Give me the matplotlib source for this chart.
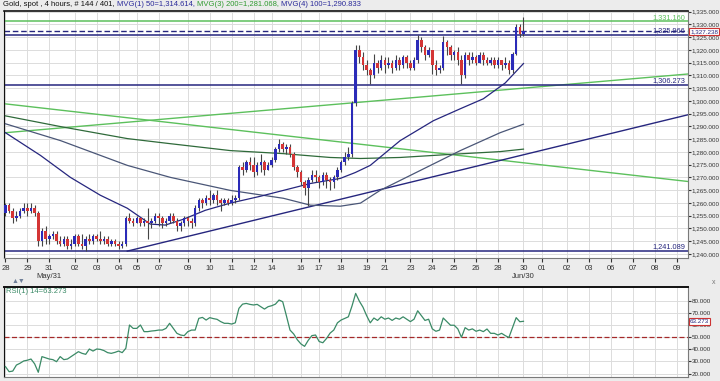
import matplotlib.pyplot as plt
from matplotlib.ticker import FuncFormatter, FixedLocator, MultipleLocator
from matplotlib.transforms import blended_transform_factory

plt.rcParams['font.family'] = ['Liberation Sans', 'DejaVu Sans']

# ---- data ----
first_open = 1256.0
closes = [
    1259, 1257, 1254, 1255, 1257, 1258, 1257, 1258, 1256, 1245,
    1249, 1246, 1247, 1248, 1245, 1244, 1246, 1243, 1244, 1247,
    1244, 1243, 1246, 1245, 1247, 1246, 1245, 1246, 1244, 1245,
    1244, 1243, 1244, 1254, 1253, 1252, 1254, 1252, 1253, 1252,
    1253, 1255, 1254, 1252, 1253, 1255, 1253, 1251, 1252, 1254,
    1253, 1252, 1258, 1261, 1260, 1262, 1261, 1263, 1261, 1260,
    1261, 1260, 1261, 1262, 1274, 1273, 1276, 1275, 1272, 1275,
    1276, 1273, 1275, 1277, 1281, 1283, 1281, 1282, 1279, 1274,
    1272, 1268, 1266, 1269, 1271, 1270, 1268, 1271, 1269, 1268,
    1270, 1273, 1276, 1278, 1279, 1299, 1320, 1317, 1314, 1312,
    1310, 1315, 1313, 1316, 1314, 1315, 1313, 1316, 1314, 1317,
    1315, 1313, 1316, 1324, 1321, 1318, 1320, 1314, 1312, 1313,
    1323, 1321, 1318, 1319, 1316, 1310, 1318, 1316, 1317, 1315,
    1318, 1316, 1315, 1316, 1314, 1316, 1314, 1315, 1312, 1318.5,
    1329, 1326, 1327.238]
highs = [
    1260, 1260, 1258, 1257, 1258, 1260, 1260, 1260, 1259, 1257,
    1250, 1251, 1248, 1249, 1249, 1247, 1247, 1247, 1246, 1248,
    1248, 1248, 1247, 1248, 1248, 1248, 1249, 1247, 1247, 1246,
    1246, 1245, 1245, 1255, 1256, 1254, 1255, 1254, 1254, 1258,
    1254, 1256, 1256, 1255, 1254, 1256, 1256, 1254, 1253, 1255,
    1255, 1254, 1259, 1262, 1262, 1263, 1265, 1264, 1265, 1262,
    1262, 1262, 1263, 1263, 1275, 1276, 1277, 1278, 1278, 1276,
    1279, 1277, 1276, 1278, 1282, 1285, 1284, 1283, 1283, 1280,
    1275, 1273, 1269, 1270, 1273, 1273, 1271, 1272, 1272, 1270,
    1271, 1274, 1277, 1280, 1282, 1300, 1322, 1322, 1319, 1316,
    1313, 1318.5, 1316, 1318, 1317, 1317, 1316, 1318, 1317, 1318,
    1318, 1316, 1317, 1325.9, 1325, 1322, 1321, 1320, 1316, 1314,
    1325.5, 1324, 1322, 1320, 1321, 1318, 1319, 1319, 1319, 1318,
    1319, 1319, 1317, 1317, 1317, 1317, 1316, 1317, 1316, 1319,
    1330, 1330, 1333]
lows = [
    1255, 1256, 1252, 1253, 1254, 1256, 1255, 1256, 1255, 1243,
    1243, 1244, 1244, 1246, 1244, 1243, 1243, 1242, 1242, 1243,
    1243, 1242, 1241.1, 1244, 1244, 1245, 1244, 1244, 1243, 1243,
    1243, 1242, 1242.5, 1243, 1252, 1251, 1252, 1251, 1251, 1246,
    1250, 1252, 1251, 1250, 1251, 1252, 1252, 1249, 1249, 1251,
    1251, 1250, 1251, 1257, 1258, 1259, 1259, 1260, 1259, 1257,
    1259, 1259, 1259, 1260, 1261, 1271, 1272, 1273, 1270, 1271,
    1272, 1271, 1273, 1274, 1276, 1280, 1280, 1279, 1278, 1273,
    1270, 1267, 1263, 1258.7, 1268, 1268, 1266, 1267, 1266, 1265,
    1266, 1269, 1272, 1275, 1277, 1278, 1298, 1315, 1312, 1310,
    1306.6, 1309, 1311, 1312, 1311, 1313, 1311, 1312, 1312, 1313,
    1313, 1312, 1312, 1315, 1319, 1316, 1317, 1310.5, 1310, 1311,
    1312, 1318, 1316, 1316, 1314, 1306.6, 1309, 1314, 1315, 1314,
    1315, 1314, 1314, 1314, 1313, 1313, 1312, 1313, 1310.5, 1311,
    1318, 1325, 1325.5]

rsi = [
    25.7, 21.5, 22, 27, 28.5, 30.4, 31, 32, 28, 21,
    34, 33, 32, 31.5, 29.8, 34, 31.5, 32, 34, 36,
    38.1, 36.7, 35.9, 40.3, 38.6, 40.3, 40, 39, 37.3, 36.7,
    37.5, 38.6, 37.3, 40.9, 60.2, 57.4, 57.4, 60.2, 54.7, 54.7,
    55.2, 55.5, 56, 56, 57.4, 61.6, 57.4, 53.3, 51.9, 51.4,
    54.7, 56, 56, 65.7, 66.5, 64.3, 66.3, 65.5, 64.9, 63,
    61.6, 61.6, 61, 62, 74, 77.5, 78.1, 77.3, 76.8, 77.3,
    75.4, 73.4, 75.4, 76.2, 77.5, 80.9, 79.5, 68, 56, 52.8,
    48, 44.5, 42.5, 47.5, 51.4, 51.9, 46.5, 45.5, 49, 53.5,
    56, 62, 64.3, 65.7, 67, 76, 86.4, 80, 75, 68,
    62, 66, 64, 67, 65, 66, 64, 66, 65, 67,
    65, 63, 65, 72, 68, 64, 65, 57, 55, 56,
    66, 63, 60, 60, 57, 50, 58, 56, 57, 55,
    56, 54.7, 56.9, 53.3, 53.3, 51.9, 53.3, 51.4, 49.8, 58,
    66.3, 62.9, 63.273]

# moving averages, read at a few bars
mvg50_x = [0, 9.6, 17.8, 26, 33.4, 39.7, 43.8, 48.8, 54.8, 61.6, 69.9, 76.2,
           83.6, 91.8, 95.9, 100, 108.2, 117.3, 124.7, 131, 137, 142]
mvg50_y = [1287.5, 1278.6, 1270.0, 1263.0, 1257.9, 1251.7, 1251.3, 1253.6,
           1257.1, 1259.9, 1262.6, 1264.9, 1267.6, 1269.6, 1271.9, 1274.7,
           1284.4, 1292.2, 1296.9, 1300.8, 1307.0, 1314.614]
mvg100_x = [0, 15.1, 33.4, 45.2, 61.6, 76.2, 83.6, 91.8, 97.3, 102.7, 113.7,
            124.7, 135.6, 142]
mvg100_y = [1291.0, 1284.4, 1274.7, 1270.0, 1264.9, 1261.8, 1259.1, 1258.7,
            1259.9, 1264.9, 1272.7, 1280.5, 1287.5, 1290.833]
mvg200_x = [0, 15.1, 33.4, 45.2, 61.6, 76.2, 89, 97.3, 108.2, 121.9, 135.6, 142]
mvg200_y = [1294.1, 1289.9, 1285.2, 1283.2, 1280.5, 1279.3, 1277.8, 1277.4,
            1277.8, 1279.0, 1280.1, 1281.068]

# drawn trend lines (two anchor points each)
green_up = [(0, 1287.5), (187, 1310.5)]
green_down = [(0, 1298.8), (187, 1268.4)]
navy_trend = [(33.4, 1241.1), (187, 1294.5)]

levels = [(1331.160, 'green'), (1325.966, 'navy'), (1306.273, 'navy'),
          (1241.089, 'navy')]
last_price = 1327.238
last_rsi = 63.273

tick_pos = [0, 6, 12, 19, 25, 31, 36, 42, 50, 56, 62, 68, 73, 81, 86, 92, 99,
            104, 111, 117, 123, 129, 135, 142, 147, 154, 160, 166, 172, 178, 184]
tick_lab = ['28', '29', '31\nMay/31', '02', '03', '04', '05', '07', '09', '10',
            '11', '12', '14', '16', '17', '18', '19', '21', '23', '24', '25',
            '26', '28', '30\nJun/30', '01', '02', '03', '06', '07', '08', '09']

# ---- styling ----
BG = '#ececec'
NAVY = '#26267e'
GREEN = '#5cc05c'
DKGREEN = '#2f6a3a'
SLATE = '#4a5677'
UP = '#2b2bb8'
DOWN = '#d43535'
GRID = '#dcdcdc'
col = {'green': GREEN, 'navy': NAVY}
LBL = 4.5

fig = plt.figure(figsize=(7.2, 3.81), dpi=100, facecolor=BG)
ax = fig.add_axes([4 / 720, 123 / 381, 684 / 720, 247 / 381])
ax_r = fig.add_axes([4 / 720, 4 / 381, 684 / 720, 90 / 381])

XMIN, XMAX = -0.4, 187.1

# candles
n = len(closes)
opens = [first_open] + closes[:-1]
xs = list(range(n))
ax.vlines(xs, lows, highs, color='#454545', linewidth=0.8, zorder=4)
for i in xs:
    o, c = opens[i], closes[i]
    h = max(abs(c - o), 0.35)
    ax.bar(i, h, bottom=min(o, c), width=0.7,
           color=UP if c >= o else DOWN, linewidth=0, zorder=5)

# moving averages
ax.plot(mvg200_x, mvg200_y, color=DKGREEN, linewidth=0.9, zorder=3)
ax.plot(mvg100_x, mvg100_y, color=SLATE, linewidth=0.9, zorder=3)
ax.plot(mvg50_x, mvg50_y, color=NAVY, linewidth=0.9, zorder=3)

# trend lines
ax.axline(green_up[0], green_up[1], color=GREEN, linewidth=1.0, zorder=2)
ax.axline(green_down[0], green_down[1], color=GREEN, linewidth=1.0, zorder=2)
ax.plot([p[0] for p in navy_trend], [p[1] for p in navy_trend],
        color=NAVY, linewidth=1.0, zorder=2)

# horizontal levels with labels
for lv, c in levels:
    ax.axhline(lv, color=col[c], linewidth=1.1, zorder=2)
    ax.text(XMAX - 0.8, lv + 0.25, f'{lv:,.3f}', color=col[c], fontsize=5.3,
            ha='right', va='bottom', zorder=6)
ax.axhline(last_price, color=NAVY, linewidth=1.0, linestyle=(0, (4, 2)),
           zorder=2)

ax.set_xlim(XMIN, XMAX)
ax.set_ylim(1238.4, 1335.2)
ax.yaxis.tick_right()
ax.yaxis.set_major_locator(MultipleLocator(5))
ax.yaxis.set_major_formatter(FuncFormatter(lambda v, p: f'{v:,.3f}'))
ax.xaxis.set_major_locator(FixedLocator(tick_pos))
ax.set_xticklabels(tick_lab)
ax.tick_params(axis='y', labelsize=LBL, length=2, pad=0.5, colors='#333333')
ax.tick_params(axis='x', labelsize=5.5, length=3, pad=2, colors='#333333')
ax.grid(True, color=GRID, linewidth=0.7, zorder=0)
ax.set_axisbelow(True)
for s in ax.spines.values():
    s.set_color('#7a7a7a')
    s.set_linewidth(0.8)
ax.spines['top'].set_color('#111111')
ax.spines['left'].set_color('#111111')
ax.spines['top'].set_linewidth(1.2)

trans = blended_transform_factory(ax.transAxes, ax.transData)
ax.text(1.003, last_price, f'{last_price:,.3f}', transform=trans,
        fontsize=LBL, color=NAVY, ha='left', va='center', zorder=7,
        bbox=dict(boxstyle='square,pad=0.12', facecolor='white',
                  edgecolor='#cc3333', linewidth=0.8), clip_on=False)

# RSI panel
ax_r.plot(xs, rsi, color='#3a8a66', linewidth=0.9, zorder=3)
ax_r.axhline(50, color='#a52a2a', linewidth=0.9, linestyle=(0, (4, 2)),
             zorder=2)
ax_r.set_xlim(XMIN, XMAX)
ax_r.set_ylim(17.1, 91.7)
ax_r.yaxis.tick_right()
ax_r.yaxis.set_major_locator(FixedLocator([20, 30, 40, 50, 60, 70, 80]))
ax_r.yaxis.set_major_formatter(FuncFormatter(lambda v, p: f'{v:,.3f}'))
ax_r.xaxis.set_major_locator(FixedLocator(tick_pos))
ax_r.tick_params(axis='x', length=0, labelbottom=False)
ax_r.tick_params(axis='y', labelsize=LBL, length=2, pad=0.5, colors='#333333')
ax_r.grid(True, color=GRID, linewidth=0.7, zorder=0)
ax_r.set_axisbelow(True)
for s in ax_r.spines.values():
    s.set_color('#7a7a7a')
    s.set_linewidth(0.8)
ax_r.spines['top'].set_color('#111111')
ax_r.spines['top'].set_linewidth(1.4)
ax_r.spines['left'].set_color('#111111')
ax_r.text(0.003, 0.985, f'RSI(1) 14={last_rsi:.3f}', transform=ax_r.transAxes,
          fontsize=5.5, color='#3a8a66', ha='left', va='top')
trans_r = blended_transform_factory(ax_r.transAxes, ax_r.transData)
ax_r.text(1.003, last_rsi, f'{last_rsi:.3f}', transform=trans_r,
          fontsize=LBL, color=NAVY, ha='left', va='center', zorder=7,
          bbox=dict(boxstyle='square,pad=0.12', facecolor='white',
                    edgecolor='#cc3333', linewidth=0.8), clip_on=False)

# title made of coloured pieces
pieces = [('Gold, spot , 4 hours, # 144 / 401, ', '#111111'),
          ('MVG(1) 50=1,314.614, ', '#2a2a9a'),
          ('MVG(3) 200=1,281.068, ', '#2f9a2f'),
          ('MVG(4) 100=1,290.833', '#2a2a9a')]
renderer = fig.canvas.get_renderer()
xpos = 3
for txt, c in pieces:
    t = fig.text(xpos / 720, 1 - 5 / 381, txt, color=c, fontsize=5.5,
                 ha='left', va='center')
    xpos += t.get_window_extent(renderer).width

fig.text(12 / 720, 1 - 281 / 381, '\u25b2\u25bc', color='#6f7f98',
         fontsize=5, ha='left', va='center')
fig.text(714 / 720, 1 - 283 / 381, 'x', color='#777777', fontsize=5,
         ha='center', va='center')

fig.savefig('out.png', dpi=100, facecolor=fig.get_facecolor())
